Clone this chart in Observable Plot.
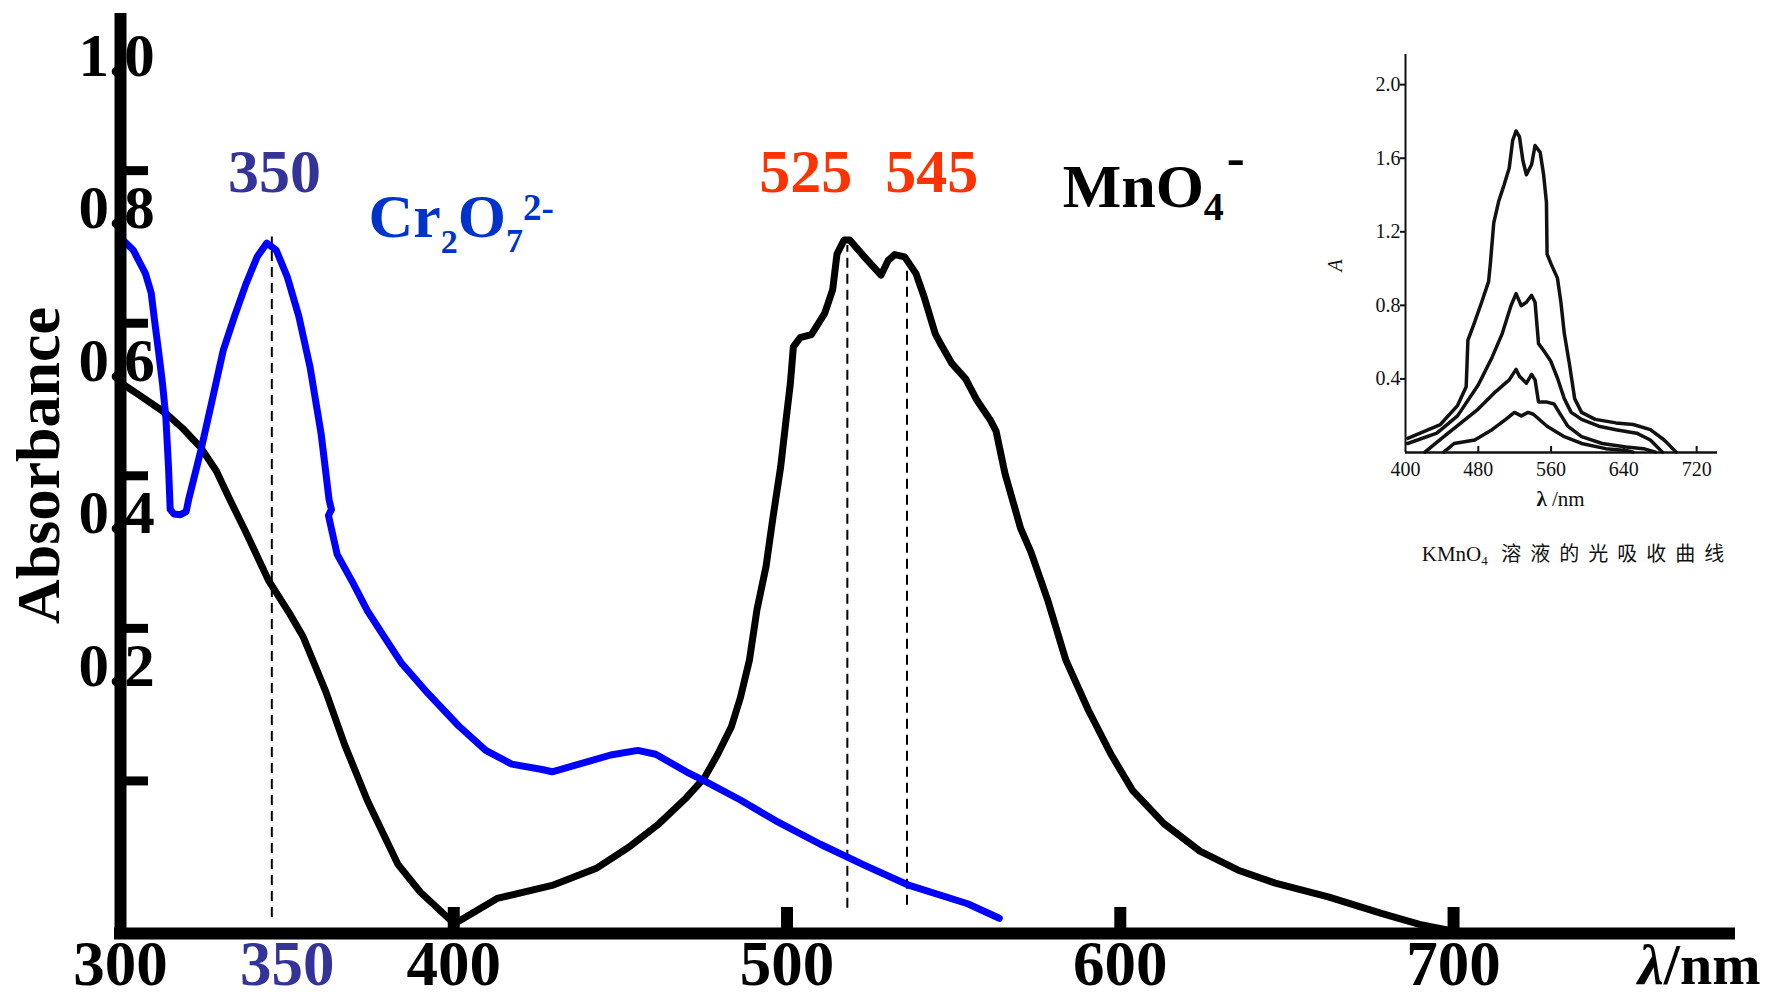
<!DOCTYPE html>
<html><head><meta charset="utf-8">
<script src="https://cdn.jsdelivr.net/npm/d3@7"></script>
<script src="https://cdn.jsdelivr.net/npm/@observablehq/plot@0.6"></script>
<style>
html,body{margin:0;padding:0;background:#fff;}
#wrap{position:relative;width:1766px;height:999px;overflow:hidden;background:#fff;}
#main{position:absolute;left:0;top:0;}
#inset{position:absolute;left:1320px;top:40px;}
</style></head>
<body><div id="wrap"><div id="main"></div><div id="inset"></div></div>
<script>
// ---------- main chart data ----------
const mnWavelength = [300.4,305.2,313.6,318.7,324.1,328.8,332.9,337.3,344.4,350.8,354.8,361.6,367.3,374.1,383.2,390.0,394.7,399.1,401.5,413.0,429.5,443.0,452.5,461.6,469.8,475.2,479.2,483.3,486.0,488.7,491.0,493.7,495.8,498.1,499.8,501.0,501.9,503.9,507.3,511.3,513.7,515.0,517.1,518.8,523.2,528.2,530.3,532.3,535.3,538.7,541.1,544.5,546.2,549.5,553.6,557.0,561.0,562.7,565.4,570.1,573.2,578.3,583.7,590.4,597.2,603.6,613.1,623.9,635.4,646.5,662.4,678.6,689.8,698.9];
const mnAbsorbance = [0.571,0.557,0.532,0.512,0.487,0.456,0.418,0.379,0.313,0.269,0.239,0.167,0.097,0.024,-0.059,-0.096,-0.115,-0.133,-0.134,-0.104,-0.087,-0.064,-0.037,-0.006,0.028,0.054,0.085,0.121,0.159,0.208,0.275,0.331,0.396,0.462,0.527,0.571,0.619,0.631,0.635,0.663,0.694,0.741,0.759,0.759,0.737,0.713,0.732,0.740,0.737,0.715,0.685,0.636,0.622,0.597,0.577,0.549,0.523,0.509,0.453,0.381,0.350,0.286,0.208,0.143,0.085,0.038,-0.006,-0.042,-0.067,-0.084,-0.102,-0.124,-0.138,-0.146];

const crWavelength = [300.5,303.8,307.5,309.2,310.2,311.4,312.6,313.6,314.4,314.8,314.9,316.0,318.0,319.7,320.4,324.1,327.5,330.8,334.2,337.6,341.0,343.9,346.7,350.1,353.5,356.9,360.2,362.6,363.3,362.4,365.0,369.7,374.1,378.8,384.2,392.4,401.5,409.6,417.4,426.5,429.5,437.6,447.1,455.2,460.6,469.8,475.2,486.0,496.5,510.0,523.5,536.7,554.2,563.7];
const crAbsorbance = [0.760,0.746,0.715,0.690,0.654,0.614,0.571,0.527,0.462,0.418,0.406,0.400,0.399,0.403,0.418,0.483,0.549,0.614,0.659,0.701,0.737,0.755,0.746,0.710,0.659,0.592,0.505,0.418,0.406,0.398,0.347,0.310,0.273,0.241,0.205,0.164,0.122,0.090,0.072,0.065,0.062,0.072,0.084,0.090,0.085,0.062,0.050,0.025,-0.002,-0.033,-0.061,-0.087,-0.111,-0.130];

// dashed peak markers
const peakWavelength = [345.4, 518.1, 536.0];
const peakTop = [0.763, 0.752, 0.729];
const peakBottom = [-0.129, -0.117, -0.113];

// axes
const xTickMarks = [400, 500, 600, 700];
const xTickLabels = [300, 400, 500, 600, 700];
const xPeakTickLabel = [350];
const yTickMarks = [0.05, 0.25, 0.45, 0.65, 0.85];
const yTickLabels = [0.2, 0.4, 0.6, 0.8, 1.0];

// annotations
const numberLabels = ["350", "525", "545"];
const numberLabelX = [346.2, 505.6, 543.4];
const numberLabelY = [0.848, 0.848, 0.848];
const numberLabelColor = ["#333399", "#ff3300", "#ff3300"];
const formulaLabels = ["Cr2O72-", "MnO4-"];
const formulaX = [374.4, 582.7];
const formulaY = [0.789, 0.828];
const formulaColor = ["#0033cc", "#000000"];

// ---------- inset (KMnO4) data ----------
const insetWl1 = [402.4,438.3,457.2,466.7,468.6,474.3,483.7,491.3,493.2,497.0,502.6,508.3,514.0,517.8,521.5,525.3,529.1,532.9,538.6,542.4,548.0,551.8,554.9,555.6,560.2,567.0,570.8,574.5,580.2,585.9,593.5,608.6,631.3,650.2,669.1,684.3,697.5];
const insetA1 = [0.077,0.152,0.255,0.358,0.611,0.686,0.817,0.929,1.023,1.248,1.369,1.454,1.547,1.697,1.748,1.716,1.585,1.510,1.566,1.669,1.632,1.510,1.360,1.079,1.023,0.948,0.817,0.648,0.480,0.293,0.218,0.180,0.161,0.152,0.124,0.068,0.002];
const insetWl2 = [402.4,434.5,457.2,479.9,495.1,506.4,515.9,521.5,527.2,532.9,538.6,542.4,546.2,551.8,559.4,567.0,574.5,582.1,593.5,612.4,631.3,654.0,669.1,682.4];
const insetA2 = [0.049,0.105,0.199,0.367,0.517,0.648,0.798,0.864,0.798,0.817,0.854,0.817,0.592,0.555,0.499,0.405,0.293,0.218,0.180,0.143,0.124,0.105,0.068,0.002];
const insetWl3 = [421.3,442.1,461.0,479.9,498.9,514.0,521.5,525.3,532.9,538.6,542.4,546.2,555.6,563.2,568.9,578.3,593.5,616.2,642.6,661.6,674.8];
const insetA3 = [0.002,0.086,0.161,0.236,0.330,0.395,0.452,0.414,0.377,0.424,0.395,0.274,0.274,0.264,0.218,0.143,0.086,0.049,0.030,0.021,0.002];
const insetWl4 = [442.1,453.4,476.1,495.1,510.2,519.7,527.2,534.8,540.5,555.6,574.5,593.5,620.0,642.6,650.2];
const insetA4 = [0.002,0.049,0.068,0.124,0.180,0.218,0.199,0.218,0.208,0.143,0.086,0.049,0.021,0.011,0.002];
const insetXTicks = [400, 480, 560, 640, 720];
const insetYTicks = [0.4, 0.8, 1.2, 1.6, 2.0];

// ---------- build tables ----------
const serif = "'Liberation Serif','Times New Roman',serif";
const cjk = "'Noto Sans CJK SC','Noto Sans CJK JP',sans-serif";
const zip = (xs, ys) => xs.map((x, i) => ({x, y: ys[i]}));
const mnData = zip(mnWavelength, mnAbsorbance);
const crData = zip(crWavelength, crAbsorbance);
const peakLines = peakWavelength.map((x, i) => ({x, y1: peakBottom[i], y2: peakTop[i]}));
const numberData = numberLabels.map((t, i) => ({t, x: numberLabelX[i], y: numberLabelY[i], c: numberLabelColor[i]}));
const formulaData = formulaLabels.map((t, i) => ({t, x: formulaX[i], y: formulaY[i], c: formulaColor[i]}));
const insetData = [
  ...zip(insetWl1, insetA1).map(d => ({...d, k: 1})),
  ...zip(insetWl2, insetA2).map(d => ({...d, k: 2})),
  ...zip(insetWl3, insetA3).map(d => ({...d, k: 3})),
  ...zip(insetWl4, insetA4).map(d => ({...d, k: 4}))
];

const main = Plot.plot({
  width: 1766, height: 999,
  marginLeft: 120, marginRight: 37, marginTop: 13, marginBottom: 66,
  x: {domain: [300, 782.8], label: null},
  y: {domain: [-0.15, 1.056], label: null},
  color: {type: "identity"},
  style: {fontFamily: serif, background: "white", overflow: "visible", color: "#000"},
  marks: [
    Plot.ruleX(peakLines, {x: "x", y1: "y1", y2: "y2", stroke: "#000", strokeWidth: 2, strokeDasharray: "10,6"}),
    Plot.line(mnData, {x: "x", y: "y", stroke: "#000", strokeWidth: 7, strokeLinejoin: "round", strokeLinecap: "round"}),
    Plot.line(crData, {x: "x", y: "y", stroke: "#0000ff", strokeWidth: 7, strokeLinejoin: "round", strokeLinecap: "round"}),
    Plot.ruleY([-0.15], {stroke: "#000", strokeWidth: 12, strokeLinecap: "square"}),
    Plot.ruleX([300], {stroke: "#000", strokeWidth: 12}),
    Plot.axisX(xTickMarks, {tickSize: -26, strokeWidth: 12, tickFormat: () => "", label: null}),
    Plot.axisY(yTickMarks, {tickSize: -28, strokeWidth: 9, tickFormat: () => "", label: null}),
    Plot.axisX(xTickLabels, {tickSize: 0, tickPadding: 7, fontSize: 63, fontWeight: "bold", fill: "#000", tickFormat: d => String(d), label: null}),
    Plot.axisX(xPeakTickLabel, {tickSize: 0, tickPadding: 7, fontSize: 63, fontWeight: "bold", fill: "#333399", tickFormat: d => String(d), label: null}),
    Plot.axisY(yTickLabels, {tickSize: 0, tickPadding: 0, textAnchor: "middle", dx: -4, fontSize: 61, fontWeight: "bold", fill: "#000", tickFormat: d => d.toFixed(1), label: null}),
    Plot.text(["Absorbance"], {frameAnchor: "left", textAnchor: "middle", lineAnchor: "middle", rotate: -90, dx: -81, dy: -8, fontSize: 62, fontWeight: "bold", fill: "#000"}),
    Plot.text(numberData, {x: "x", y: "y", text: "t", fill: "c", fontSize: 62, fontWeight: "bold", textAnchor: "middle"}),
    Plot.text(formulaData, {x: "x", y: "y", text: "t", fill: "c", fontSize: 62, fontWeight: "bold", textAnchor: "start"}),
    Plot.text(["λ/nm"], {frameAnchor: "bottom-right", textAnchor: "end", lineAnchor: "bottom", dx: 31, dy: 50, fontSize: 58, fontWeight: "bold", fill: "#000"})
  ]
});
document.getElementById("main").appendChild(main);

const inset = Plot.plot({
  width: 420, height: 540,
  marginLeft: 85, marginRight: 23, marginTop: 14, marginBottom: 128,
  x: {domain: [400, 742.9], label: null},
  y: {domain: [0, 2.164], label: null},
  style: {fontFamily: serif, background: "transparent", overflow: "visible", color: "#111"},
  marks: [
    Plot.line(insetData, {x: "x", y: "y", z: "k", stroke: "#111", strokeWidth: 3.5, strokeLinejoin: "round"}),
    Plot.ruleY([0], {stroke: "#111", strokeWidth: 2.5}),
    Plot.ruleX([400], {stroke: "#111", strokeWidth: 2}),
    Plot.axisX(insetXTicks.slice(1), {tickSize: -6, strokeWidth: 2, tickFormat: () => "", label: null}),
    Plot.axisX(insetXTicks, {tickSize: 0, tickPadding: 9, fontSize: 20, fill: "#111", tickFormat: d => String(d), label: null}),
    Plot.axisY(insetYTicks, {tickSize: 5, strokeWidth: 2, tickPadding: 0, fontSize: 20, fill: "#111", tickFormat: d => d.toFixed(1), label: null}),
    Plot.text(["A"], {frameAnchor: "left", textAnchor: "middle", lineAnchor: "middle", rotate: -90, dx: -70, dy: 12, fontSize: 20, fontStyle: "italic", fill: "#111"}),
    Plot.text(["λ /nm"], {frameAnchor: "bottom", lineAnchor: "bottom", dx: -1, dy: 53, fontSize: 21, fill: "#111"}),
    Plot.text(["KMnO4 溶液的光吸收曲线"], {frameAnchor: "bottom", lineAnchor: "bottom", dx: 16, dy: 108, fontSize: 21, fill: "#111"})
  ]
});
document.getElementById("inset").appendChild(inset);

// ---------- rich text (sub/superscripts) ----------
const NS = "http://www.w3.org/2000/svg";
function richify(svg, plain, parts) {
  svg.querySelectorAll("text").forEach(t => {
    if (t.textContent !== plain) return;
    t.textContent = "";
    for (const p of parts) {
      const s = document.createElementNS(NS, "tspan");
      s.textContent = p.t;
      if (p.size) s.setAttribute("font-size", p.size);
      if (p.dy) s.setAttribute("dy", p.dy);
      if (p.dx) s.setAttribute("dx", p.dx);
      if (p.style) s.setAttribute("font-style", p.style);
      if (p.weight) s.setAttribute("font-weight", p.weight);
      if (p.family) s.setAttribute("font-family", p.family);
      if (p.spacing) s.setAttribute("letter-spacing", p.spacing);
      t.appendChild(s);
    }
  });
}
richify(main, "Cr2O72-", [
  {t: "Cr"}, {t: "2", size: 34, dy: 16}, {t: "O", size: 62, dy: -16},
  {t: "7", size: 34, dy: 15}, {t: "2-", size: 37, dy: -32}
]);
richify(main, "MnO4-", [
  {t: "MnO"}, {t: "4", size: 40, dy: 13}, {t: "-", size: 54, dy: -44, dx: 3}
]);
richify(main, "λ/nm", [{t: "λ", style: "italic"}, {t: "/nm"}]);
richify(inset, "λ /nm", [{t: "λ", weight: "bold"}, {t: " /nm"}]);
richify(inset, "KMnO4 溶液的光吸收曲线", [
  {t: "KMnO"}, {t: "4", size: 13, dy: 4}, {t: " 溶液的光吸收曲线", dy: -4, family: cjk, spacing: 9, size: 20}
]);
</script>
</body></html>
